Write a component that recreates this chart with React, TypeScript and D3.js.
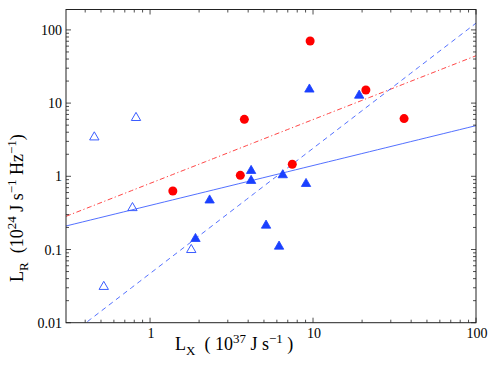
import React, { useEffect, useRef } from 'react';
import * as d3 from 'd3';

// Detections (red circles): LX, LR
const redLX = [1.38, 3.58, 3.79, 9.6, 7.46, 21.1, 36.2];
const redLR = [0.63, 1.03, 6.0, 70.5, 1.46, 15.1, 6.15];

// Filled blue triangles
const blueLX = [9.5, 19.2, 4.17, 4.17, 6.52, 9.06, 5.15, 6.19, 2.32, 1.9];
const blueLR = [15.4, 12.7, 1.19, 0.87, 1.04, 0.79, 0.213, 0.11, 0.47, 0.14];

// Open blue triangles
const openLX = [0.455, 0.82, 0.78, 1.79, 0.52];
const openLR = [3.42, 6.3, 0.37, 0.099, 0.031];

// Power-law fits LR = norm * LX^index
const fitNames = ['blueSolid', 'redDashDot', 'blueDashed'];
const fitNorm = [0.4, 0.8, 0.047];
const fitIndex = [0.545, 0.872, 1.71];

const xTickLabels = ['1', '10', '100'];
const yTickLabels = ['0.01', '0.1', '1', '10', '100'];

const App = () => {
  const svgRef = useRef<SVGSVGElement>(null);

  useEffect(() => {
    const width = 491;
    const height = 365;
    const left = 66, right = 476, top = 9.5, bottom = 322.7;
    const font = '"Liberation Serif", "Times New Roman", serif';

    const svg = d3.select(svgRef.current);
    svg.selectAll('*').remove();
    svg.attr('width', width).attr('height', height);

    const x = d3.scaleLog().domain([0.305, 100]).range([left, right]);
    const y = d3.scaleLog().domain([0.01, 190]).range([bottom, top]);

    // Clip for the fit lines
    svg.append('defs').append('clipPath').attr('id', 'plotClip')
      .append('rect')
      .attr('x', left).attr('y', top)
      .attr('width', right - left).attr('height', bottom - top);

    // Fit lines
    const fitStyle: Record<string, { color: string; dash: string; w: number }> = {
      blueSolid: { color: '#4060ff', dash: '', w: 0.9 },
      redDashDot: { color: '#ff3030', dash: '5,2.5,1.2,2.5', w: 0.9 },
      blueDashed: { color: '#4060ff', dash: '5,4', w: 0.9 },
    };
    const xs = d3.range(0, 51).map(i => 0.305 * Math.pow(100 / 0.305, i / 50));
    const line = d3.line<number[]>().x(d => x(d[0])).y(d => y(d[1]));
    fitNames.forEach((name, i) => {
      const pts = xs.map(v => [v, fitNorm[i] * Math.pow(v, fitIndex[i])]);
      const st = fitStyle[name];
      svg.append('path')
        .attr('clip-path', 'url(#plotClip)')
        .attr('d', line(pts))
        .attr('fill', 'none')
        .attr('stroke', st.color)
        .attr('stroke-width', st.w)
        .attr('stroke-dasharray', st.dash || null);
    });

    // Triangle symbol
    const tri = d3.symbol().type(d3.symbolTriangle).size(38);

    // Open triangles
    svg.append('g').selectAll('path')
      .data(openLX.map((v, i) => [v, openLR[i]]))
      .enter().append('path')
      .attr('d', tri)
      .attr('transform', d => `translate(${x(d[0])},${y(d[1])})`)
      .attr('fill', 'none')
      .attr('stroke', '#3a5cff')
      .attr('stroke-width', 1);

    // Filled triangles
    svg.append('g').selectAll('path')
      .data(blueLX.map((v, i) => [v, blueLR[i]]))
      .enter().append('path')
      .attr('d', tri)
      .attr('transform', d => `translate(${x(d[0])},${y(d[1])})`)
      .attr('fill', '#1a40ff')
      .attr('stroke', '#1a40ff')
      .attr('stroke-width', 0.8);

    // Red circles
    svg.append('g').selectAll('circle')
      .data(redLX.map((v, i) => [v, redLR[i]]))
      .enter().append('circle')
      .attr('cx', d => x(d[0]))
      .attr('cy', d => y(d[1]))
      .attr('r', 4.5)
      .attr('fill', '#ff0000');

    // Box
    svg.append('rect')
      .attr('x', left).attr('y', top)
      .attr('width', right - left).attr('height', bottom - top)
      .attr('fill', 'none')
      .attr('stroke', '#222')
      .attr('stroke-width', 1);

    // Ticks (inward, all four sides)
    const ticks = svg.append('g').attr('stroke', '#222').attr('stroke-width', 0.8);
    const xMajor = xTickLabels.map(Number);
    const xMinor: number[] = [];
    [0.1, 1, 10].forEach(d => d3.range(2, 10).forEach(k => {
      const v = d * k;
      if (v > 0.305 && v < 100) xMinor.push(v);
    }));
    const yMajor = yTickLabels.map(Number);
    const yMinor: number[] = [];
    [0.01, 0.1, 1, 10, 100].forEach(d => d3.range(2, 10).forEach(k => {
      const v = d * k;
      if (v < 190) yMinor.push(v);
    }));

    const addX = (vals: number[], len: number) => vals.forEach(v => {
      ticks.append('line').attr('x1', x(v)).attr('x2', x(v)).attr('y1', bottom).attr('y2', bottom - len);
      ticks.append('line').attr('x1', x(v)).attr('x2', x(v)).attr('y1', top).attr('y2', top + len);
    });
    const addY = (vals: number[], len: number) => vals.forEach(v => {
      ticks.append('line').attr('y1', y(v)).attr('y2', y(v)).attr('x1', left).attr('x2', left + len);
      ticks.append('line').attr('y1', y(v)).attr('y2', y(v)).attr('x1', right).attr('x2', right - len);
    });
    addX(xMajor, 5);
    addX(xMinor, 3);
    addY(yMajor, 5);
    addY(yMinor, 3);

    // Tick labels
    xTickLabels.forEach(t => {
      svg.append('text')
        .attr('x', x(Number(t)) + 1)
        .attr('y', 338)
        .attr('text-anchor', 'middle')
        .attr('font-family', font)
        .attr('font-size', 14)
        .text(t);
    });
    yTickLabels.forEach(t => {
      svg.append('text')
        .attr('x', 62)
        .attr('y', y(Number(t)) + 5)
        .attr('text-anchor', 'end')
        .attr('font-family', font)
        .attr('font-size', 14)
        .text(t);
    });

    // X axis label
    const xl = svg.append('text')
      .attr('x', 175)
      .attr('y', 350)
      .attr('font-family', font)
      .attr('font-size', 18)
      .attr('xml:space', 'preserve');
    xl.append('tspan').text('L');
    xl.append('tspan').attr('dy', 5).attr('font-size', 13).text('X');
    xl.append('tspan').attr('dy', -5).text('  ( 10');
    xl.append('tspan').attr('dy', -7).attr('font-size', 13).text('37');
    xl.append('tspan').attr('dy', 7).text(' J s');
    xl.append('tspan').attr('dy', -7).attr('font-size', 13).text('\u22121');
    xl.append('tspan').attr('dy', 7).text(' )');

    // Y axis label
    const yl = svg.append('text')
      .attr('transform', 'translate(23,282) rotate(-90)')
      .attr('font-family', font)
      .attr('font-size', 18)
      .attr('xml:space', 'preserve');
    yl.append('tspan').text('L');
    yl.append('tspan').attr('dy', 5).attr('font-size', 13).text('R');
    yl.append('tspan').attr('dy', -5).text('  (10');
    yl.append('tspan').attr('dy', -7).attr('font-size', 13).text('24');
    yl.append('tspan').attr('dy', 7).text(' J s');
    yl.append('tspan').attr('dy', -7).attr('font-size', 13).text('\u22121');
    yl.append('tspan').attr('dy', 7).text(' Hz');
    yl.append('tspan').attr('dy', -7).attr('font-size', 13).text('\u22121');
    yl.append('tspan').attr('dy', 7).text(')');
  }, []);

  return (
    <svg ref={svgRef} style={{ position: 'absolute', left: 0, top: 0, background: '#fff' }}></svg>
  );
};

export default App;
